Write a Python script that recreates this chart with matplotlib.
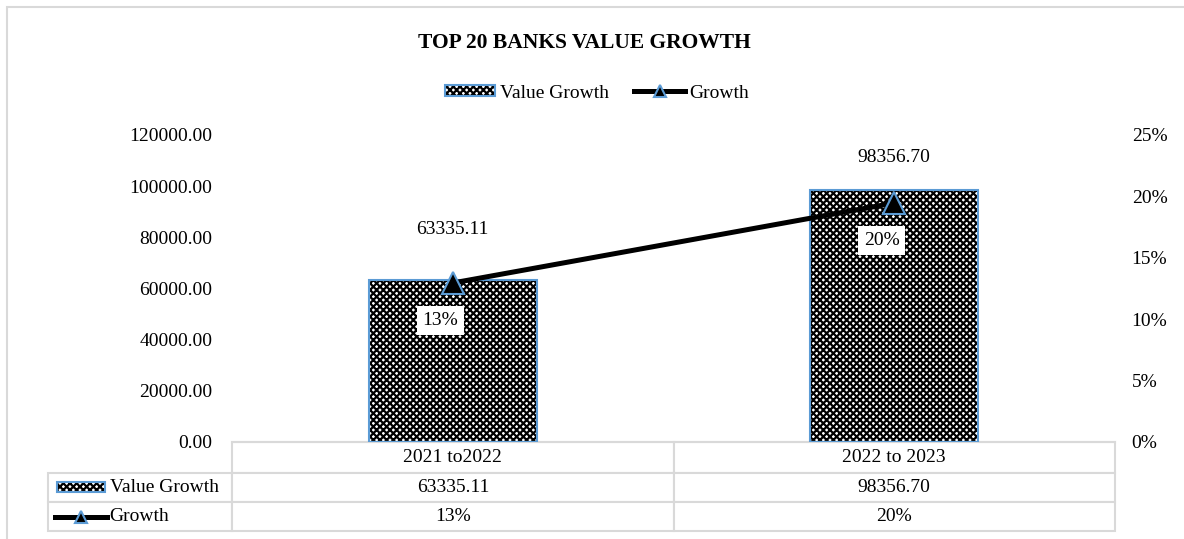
#!/usr/bin/env python3
# top 20 banks value growth - bar + line chart with data table underneath
import matplotlib
matplotlib.use('Agg')
import matplotlib.pyplot as plt
from matplotlib.patches import Patch, Rectangle
from matplotlib.lines import Line2D
from matplotlib.table import Table
from matplotlib.ticker import PercentFormatter

categories = ['2021 to2022', '2022 to 2023']
value_growth = [63335.11, 98356.70]
growth = [0.1295, 0.1946]
growth_text = ['13%', '20%']

plt.rcParams['font.family'] = ['Liberation Serif', 'DejaVu Serif']
plt.rcParams['hatch.linewidth'] = 1.6

W, H = 1184, 539
blue = '#5b9bd5'
gray = '#d9d9d9'
hatch = 'xxxxx'

fig = plt.figure(figsize=(W / 100, H / 100), dpi=100)
ax = fig.add_axes([232 / W, 1 - 442 / H, 883 / W, 307 / H])
ax2 = ax.twinx()

x = list(range(len(categories)))

# bars: hatch layer + blue outline
ax.bar(x, value_growth, width=0.38, color='white', edgecolor='black',
       hatch=hatch, linewidth=0, zorder=2)
ax.bar(x, value_growth, width=0.38, fill=False, edgecolor=blue,
       linewidth=1.5, zorder=3)

label_offsets = [36, 24]
for xi, v, off in zip(x, value_growth, label_offsets):
    ax.annotate('%.2f' % v, (xi, v), xytext=(0, off), textcoords='offset points',
                ha='center', va='center', fontsize=14)

ax.set_xlim(-0.5, 1.5)
ax.set_ylim(0, 120000)
ax.set_yticks(range(0, 120001, 20000))
ax.set_yticklabels(['%.2f' % t for t in range(0, 120001, 20000)])
ax.set_xticks([])
ax.tick_params(axis='y', length=0, pad=14, labelsize=14)
for s in ['top', 'left', 'right']:
    ax.spines[s].set_visible(False)
ax.spines['bottom'].set_color(gray)
ax.spines['bottom'].set_linewidth(1.5)

# growth line on right axis
ax2.plot(x, growth, color='black', linewidth=3.6, marker='^', markersize=16,
         markerfacecolor='black', markeredgecolor=blue, markeredgewidth=1.5,
         zorder=4)
for xi, g, t in zip(x, growth, growth_text):
    ax2.annotate(t, (xi, g), xytext=(-9, -27), textcoords='offset points',
                 ha='center', va='center', fontsize=14,
                 bbox=dict(boxstyle='square,pad=0.3', fc='white', ec='none'))
ax2.set_ylim(0, 0.25)
ax2.set_yticks([0, 0.05, 0.10, 0.15, 0.20, 0.25])
ax2.yaxis.set_major_formatter(PercentFormatter(1.0, decimals=0))
ax2.tick_params(axis='y', length=0, pad=12, labelsize=14)
for s in ax2.spines.values():
    s.set_visible(False)

# title + legend
fig.text(584 / W, 1 - 43 / H, 'TOP 20 BANKS VALUE GROWTH', ha='center',
         va='center', fontsize=15.5, fontweight='bold')
h_bar = (Patch(facecolor='white', edgecolor='black', hatch=hatch, linewidth=0),
         Patch(fill=False, edgecolor=blue, linewidth=1.5))
h_line = Line2D([], [], color='black', linewidth=3.6, marker='^', markersize=8,
                markerfacecolor='black', markeredgecolor=blue, markeredgewidth=1.5)
fig.legend([h_bar, h_line], ['Value Growth', 'Growth'], loc='center',
           bbox_to_anchor=(597 / W, 1 - 93 / H), ncol=2, frameon=False,
           fontsize=14, handlelength=2.6, handleheight=0.5,
           handletextpad=0.25, columnspacing=1.3)

# data table under the plot
tb = Table(ax, bbox=[(48 - 232) / 883, -89 / 307, 1067 / 883, 89 / 307])
row_h = [31, 29, 29]
for j, c in enumerate(categories):
    tb.add_cell(0, j + 1, width=441, height=row_h[0], text=c, loc='center')
rows = [('Value Growth', ['%.2f' % v for v in value_growth]),
        ('Growth', growth_text)]
for i, (name, vals) in enumerate(rows):
    cell = tb.add_cell(i + 1, 0, width=184, height=row_h[i + 1], text=name, loc='left')
    cell.PAD = 0.335
    for j, v in enumerate(vals):
        tb.add_cell(i + 1, j + 1, width=441, height=row_h[i + 1], text=v, loc='center')
tb.auto_set_font_size(False)
tb.set_fontsize(14)
for cell in tb.get_celld().values():
    cell.set_edgecolor(gray)
    cell.set_linewidth(1.5)
ax.add_table(tb)

# legend keys inside the table row labels
sw = (57 / W, 1 - 492 / H)
fig.patches.append(Rectangle(sw, 48 / W, 10 / H, facecolor='white',
                             edgecolor='black', hatch=hatch, linewidth=0,
                             transform=fig.transFigure))
fig.patches.append(Rectangle(sw, 48 / W, 10 / H, fill=False, edgecolor=blue,
                             linewidth=1.5, transform=fig.transFigure))
fig.lines.append(Line2D([55 / W, 107 / W], [1 - 517 / H] * 2, color='black',
                        linewidth=3.6, transform=fig.transFigure))
fig.lines.append(Line2D([81 / W], [1 - 517 / H], marker='^', markersize=8,
                        markerfacecolor='black', markeredgecolor=blue,
                        markeredgewidth=1.5, transform=fig.transFigure))

# chart area border (runs off right/bottom)
fig.patches.append(Rectangle((7 / W, -0.1), 1.2, 1.1 - 7 / H, fill=False,
                             edgecolor=gray, linewidth=1.5,
                             transform=fig.transFigure))

plt.savefig('out.png', dpi=100)
